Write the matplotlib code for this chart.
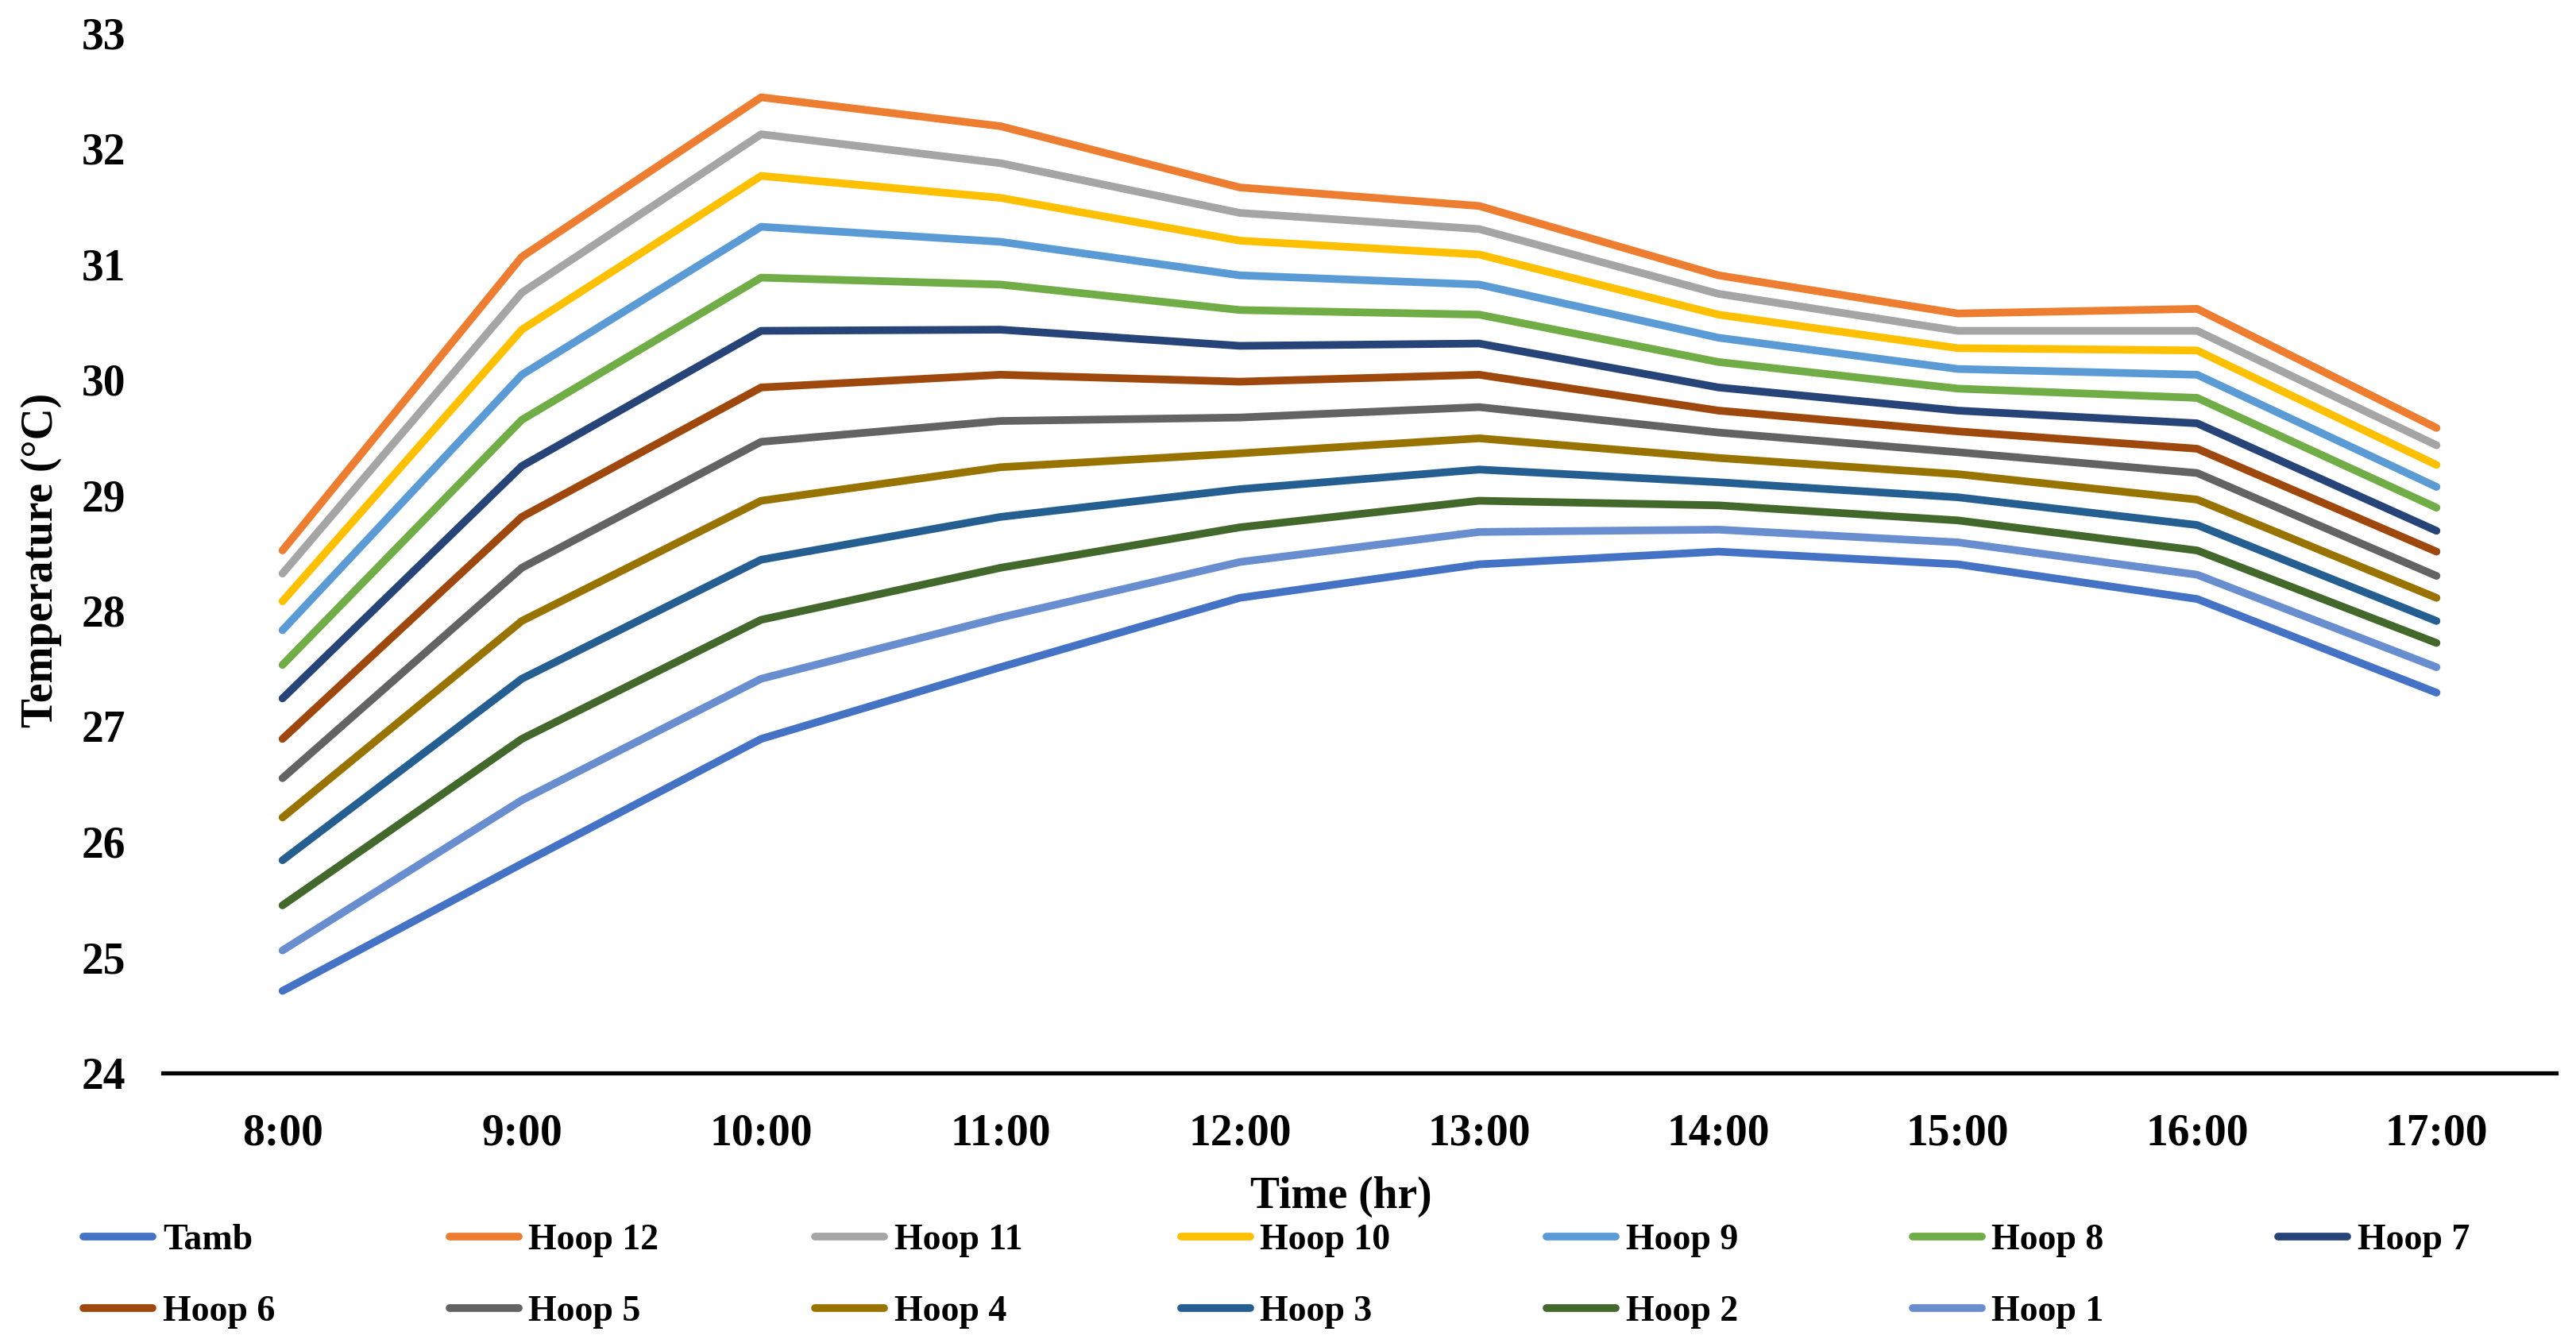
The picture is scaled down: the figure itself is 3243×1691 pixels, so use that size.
import matplotlib.pyplot as plt

# data
times = ["8:00", "9:00", "10:00", "11:00", "12:00", "13:00", "14:00", "15:00", "16:00", "17:00"]

tamb = [24.71, 25.81, 26.89, 27.51, 28.11, 28.40, 28.51, 28.40, 28.10, 27.29]
hoop_12 = [28.52, 31.06, 32.44, 32.19, 31.66, 31.50, 30.90, 30.57, 30.61, 29.58]
hoop_11 = [28.32, 30.75, 32.12, 31.87, 31.44, 31.30, 30.74, 30.42, 30.42, 29.43]
hoop_10 = [28.08, 30.43, 31.76, 31.57, 31.20, 31.08, 30.56, 30.27, 30.25, 29.26]
hoop_9 = [27.83, 30.04, 31.32, 31.19, 30.90, 30.82, 30.36, 30.09, 30.04, 29.07]
hoop_8 = [27.53, 29.65, 30.88, 30.82, 30.60, 30.56, 30.15, 29.92, 29.84, 28.89]
hoop_7 = [27.24, 29.25, 30.42, 30.43, 30.29, 30.31, 29.93, 29.73, 29.62, 28.69]
hoop_6 = [26.89, 28.81, 29.93, 30.04, 29.98, 30.04, 29.73, 29.55, 29.40, 28.51]
hoop_5 = [26.55, 28.37, 29.46, 29.64, 29.67, 29.76, 29.54, 29.37, 29.19, 28.30]
hoop_4 = [26.21, 27.91, 28.95, 29.24, 29.36, 29.49, 29.32, 29.18, 28.96, 28.11]
hoop_3 = [25.84, 27.41, 28.44, 28.81, 29.05, 29.22, 29.11, 28.98, 28.74, 27.91]
hoop_2 = [25.45, 26.89, 27.92, 28.37, 28.72, 28.95, 28.91, 28.78, 28.52, 27.72]
hoop_1 = [25.06, 26.36, 27.41, 27.94, 28.42, 28.68, 28.70, 28.59, 28.31, 27.51]

names = ["Tamb", "Hoop 12", "Hoop 11", "Hoop 10", "Hoop 9", "Hoop 8", "Hoop 7",
         "Hoop 6", "Hoop 5", "Hoop 4", "Hoop 3", "Hoop 2", "Hoop 1"]
series = [tamb, hoop_12, hoop_11, hoop_10, hoop_9, hoop_8, hoop_7,
          hoop_6, hoop_5, hoop_4, hoop_3, hoop_2, hoop_1]
colors = ["#4472C4", "#ED7D31", "#A5A5A5", "#FFC000", "#5B9BD5", "#70AD47", "#264478",
          "#9E480E", "#636363", "#997300", "#255E91", "#43682B", "#698ED0"]

plt.rcParams["font.family"] = ["Liberation Serif", "DejaVu Serif"]
plt.rcParams["font.weight"] = "bold"

W, H = 3243, 1691
fig = plt.figure(figsize = (W / 200, H / 200), dpi = 200)
ax = fig.add_axes([205 / W, 1 - 1351 / H, (3218 - 205) / W, (1351 - 41) / H])

x = list(range(len(times)))
handles = []
for name, values, color in zip(names, series, colors):
    line, = ax.plot(x, values, '-', color = color, lw = 3.5, label = name,
                    solid_capstyle = "round", solid_joinstyle = "round")
    handles.append(line)

ax.set_xlim(-0.5, len(times) - 0.5)
ax.set_ylim(24, 33)
ax.set_yticks(range(24, 34))
ax.set_xticks(x)
ax.set_xticklabels(times)

for side in ["left", "right", "top"]:
    ax.spines[side].set_visible(False)
ax.spines["bottom"].set_linewidth(1.9)
ax.spines["bottom"].set_color("black")

ax.tick_params(axis = "both", length = 0, labelsize = 20)
ax.tick_params(axis = "x", pad = 18)
ax.tick_params(axis = "y", pad = 17)
for lab in ax.get_xticklabels() + ax.get_yticklabels():
    lab.set_fontweight("bold")

fig.text(52 / W, 1 - 705 / H, "Temperature (\u00b0C)", rotation = 90,
         ha = "center", va = "center", fontsize = 20, fontweight = "bold")
fig.text(1688 / W, 1 - 1507 / H, "Time (hr)",
         ha = "center", va = "center", fontsize = 20, fontweight = "bold")

# legend: two rows, row-major like the original, fixed column step
row1 = handles[:7]
row2 = handles[7:]
for i in range(7):
    col = [row1[i]]
    if i < len(row2):
        col.append(row2[i])
    fig.legend(handles = col, labels = [h.get_label() for h in col],
               loc = "upper left", bbox_to_anchor = ((105 + i * 460.5) / W, 1 - 1541 / H),
               frameon = False, fontsize = 16.5, handlelength = 1.9, handletextpad = 0.28,
               borderpad = 0, borderaxespad = 0, labelspacing = 1.05)

fig.savefig("out.png", dpi = 200)
